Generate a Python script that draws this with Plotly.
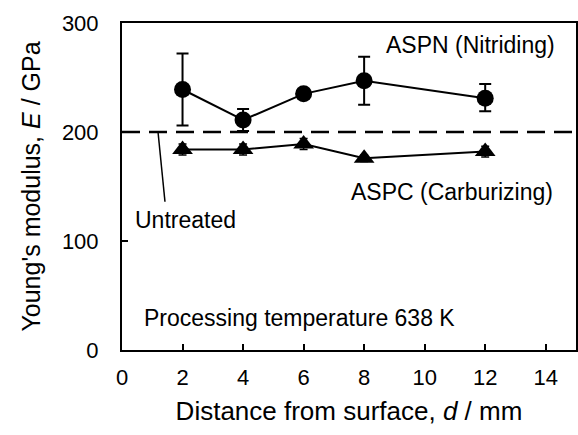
import plotly.graph_objects as go

# Data
distance = [2, 4, 6, 8, 12]
aspn_E = [239, 211, 235, 247, 231]
aspn_err_plus = [33, 10, 4, 22, 13]
aspn_err_minus = [33, 10, 4, 22, 12]
aspc_E = [184, 184, 189, 176, 182]
aspc_err = [5, 5, 5, 3, 5]
untreated_E = 200
x_range = [0, 15]
y_range = [0, 300]
x_ticks = [0, 2, 4, 6, 8, 10, 12, 14]
y_ticks = [0, 100, 200, 300]

FONT = "Liberation Sans, Arial, sans-serif"

fig = go.Figure()

# Untreated dashed line
fig.add_trace(go.Scatter(
    x=x_range, y=[untreated_E, untreated_E], mode="lines",
    line=dict(color="black", width=2.5, dash="18px,9px"),
    showlegend=False, hoverinfo="skip"))

fig.add_trace(go.Scatter(
    x=distance, y=aspn_E, mode="lines+markers",
    line=dict(color="black", width=2),
    marker=dict(symbol="circle", size=17, color="black"),
    error_y=dict(type="data", symmetric=False, array=aspn_err_plus,
                 arrayminus=aspn_err_minus, color="black", thickness=2, width=6),
    showlegend=False))

fig.add_trace(go.Scatter(
    x=distance, y=aspc_E, mode="lines+markers",
    line=dict(color="black", width=2),
    marker=dict(symbol="triangle-up", size=18, color="black"),
    error_y=dict(type="data", array=aspc_err, color="black", thickness=1.5, width=4),
    showlegend=False))

axis_common = dict(
    showline=True, linecolor="black", linewidth=2, mirror=True,
    ticks="inside", ticklen=6, tickwidth=1.5, tickcolor="black",
    showgrid=False, zeroline=False, automargin=False,
    tickfont=dict(family=FONT, size=22, color="black"),
)

fig.update_xaxes(range=x_range, tickvals=x_ticks, ticklabelstandoff=7,
                 title=dict(text="Distance from surface, <i>d</i> / mm",
                            font=dict(family=FONT, size=26, color="black"), standoff=12),
                 **axis_common)
fig.update_yaxes(range=y_range, tickvals=y_ticks, ticklabelstandoff=17,
                 title=dict(text="Young's modulus, <i>E</i> / GPa",
                            font=dict(family=FONT, size=25, color="black"), standoff=14),
                 **axis_common)

ann_font = dict(family=FONT, size=23, color="black")
fig.add_annotation(x=11.5, y=280, text="ASPN (Nitriding)", showarrow=False, font=ann_font)
fig.add_annotation(x=10.9, y=145, text="ASPC (Carburizing)", showarrow=False, font=ann_font)
fig.add_annotation(x=2.1, y=119, text="Untreated", showarrow=False, font=ann_font)
fig.add_annotation(x=0.66, y=29, text="Processing temperature 638 K", showarrow=False,
                   xanchor="left", font=ann_font)
fig.add_shape(type="line", x0=1.42, y0=136, x1=1.19, y1=untreated_E,
              line=dict(color="black", width=1.5))

fig.update_layout(
    width=578, height=435,
    margin=dict(l=122, r=2, t=23, b=85),
    plot_bgcolor="white", paper_bgcolor="white",
    font=dict(family=FONT, color="black"),
)

fig.write_html("out.html", config={"displayModeBar": False},
               post_script="document.body.style.margin='0';document.body.style.overflow='hidden';")
